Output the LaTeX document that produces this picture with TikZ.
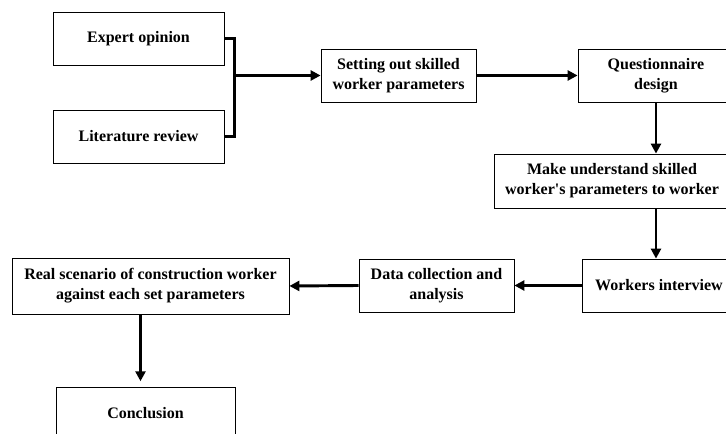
\documentclass[tikz,border=0pt]{standalone}
\usepackage{fontspec}
\setmainfont{Liberation Serif}
\usetikzlibrary{arrows.meta,calc}

\begin{document}
\begin{tikzpicture}[x=0.75pt,y=-0.75pt,
    box/.style={draw, line width=0.6pt, align=center, inner sep=0pt,
        font=\fontsize{12}{15}\selectfont\bfseries},
    flow/.style={line width=2.2pt, -{Triangle[length=7.5pt,width=7.5pt]}}]
            \useasboundingbox (0,0) rectangle (726,434);
            \clip (0,0) rectangle (726,434);
            \node[box, minimum width=128.25pt, minimum height=39.75pt] (ex) at (138.5,38.5) {Expert opinion};
            \node[box, minimum width=128.25pt, minimum height=39.75pt] (lit) at (138.5,136.5) {Literature review};
            \node[box, minimum width=116.25pt, minimum height=39.75pt] (set) at (398.5,75.5) {Setting out skilled\\worker parameters};
            \node[box, minimum width=117pt, minimum height=39.75pt] (qd) at (656,75.5) {Questionnaire\\design};
            \node[box, minimum width=177pt, minimum height=40.5pt] (mu) at (612,181) {Make understand skilled\\worker\textquotesingle s parameters to worker};
            \node[box, minimum width=115.5pt, minimum height=39.75pt] (wi) at (659,285.5) {Workers interview};
            \node[box, minimum width=116.25pt, minimum height=39.75pt] (dc) at (436.5,285.5) {Data collection and\\analysis};
            \node[box, minimum width=207.75pt, minimum height=42pt] (rs) at (150.5,286) {Real scenario of construction worker\\against each set parameters};
            \node[box, minimum width=134.25pt, minimum height=39.75pt] (cn) at (145.5,413.5) {Conclusion};
            \draw[line width=2.2pt] (ex.east) -- ++(10,0) coordinate (bt) -- (bt |- lit.east) -- (lit.east);
            \draw[flow] (bt |- set.west) -- (set.west);
            \draw[flow] (set.east) -- (qd.west);
            \draw[flow] (qd.south) -- (qd.south |- mu.north);
            \draw[flow] (qd.south |- mu.south) -- (qd.south |- wi.north);
            \draw[flow] (wi.west) -- (dc.east);
            \draw[flow] (dc.west) -- (rs.east);
            \draw[flow, shorten >=4pt] ([xshift=-7.5pt]rs.south) -- ([xshift=-7.5pt]rs.south |- cn.north);
\end{tikzpicture}
\end{document}
